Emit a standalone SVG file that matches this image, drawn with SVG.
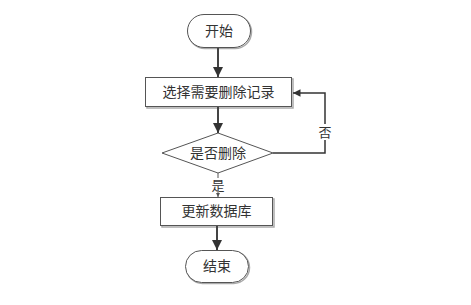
<svg xmlns="http://www.w3.org/2000/svg" width="471" height="305" viewBox="0 0 471 305">
<defs>
<marker id="ah" viewBox="0 0 10 10" refX="10" refY="5" markerWidth="5" markerHeight="5" orient="auto" markerUnits="strokeWidth"><path d="M0,0 L10,5 L0,10 z" fill="#333"/></marker>
<marker id="ahs" viewBox="0 0 10 10" refX="10" refY="5" markerWidth="4" markerHeight="4" orient="auto" markerUnits="strokeWidth"><path d="M0,0 L10,5 L0,10 z" fill="#555"/></marker>
</defs>
<style>
.shape{fill:#fff;stroke:#555;stroke-width:1}
.shadow{fill:none;stroke:#aaa;stroke-width:1.5}
.t{font-family:"Liberation Serif","Noto Sans CJK SC",serif;font-size:14px;fill:#333;text-anchor:middle;dominant-baseline:central}
.c{fill:none;stroke:#444;stroke-width:2}
</style>
<rect width="471" height="305" fill="#fff"/>
<g id="start">
<rect x="188.5" y="15.5" width="63" height="33" rx="16.5" class="shadow"/>
<rect x="187.5" y="14.5" width="63" height="33" rx="16.5" class="shape"/>
<text x="219" y="31" class="t">开始</text>
</g>
<g id="select">
<rect x="147" y="79" width="146" height="29" class="shadow"/>
<rect x="145.5" y="77.5" width="146" height="29" class="shape"/>
<text x="218.5" y="92" class="t">选择需要删除记录</text>
</g>
<g id="decide">
<polygon points="218,133 273,153 218,173 162,153" class="shape"/>
<text x="218" y="153" class="t">是否删除</text>
</g>
<g id="update">
<rect x="162" y="199" width="112" height="28" class="shadow"/>
<rect x="160.5" y="197.5" width="112" height="28" class="shape"/>
<text x="216.5" y="211.5" class="t">更新数据库</text>
</g>
<g id="end">
<rect x="186.5" y="251.5" width="63" height="32" rx="16" class="shadow"/>
<rect x="185.5" y="250.5" width="63" height="32" rx="16" class="shape"/>
<text x="217" y="266.5" class="t">结束</text>
</g>
<g id="connectors">
<line x1="218" y1="48" x2="218" y2="77" class="c" marker-end="url(#ah)"/>
<line x1="218" y1="107" x2="218" y2="133" class="c" marker-end="url(#ah)"/>
<polyline points="273,153 325,153 325,93 293,93" fill="none" stroke="#333" stroke-width="1.5" marker-end="url(#ah)"/>
<line x1="218" y1="173" x2="218" y2="197" stroke="#555" stroke-width="1" marker-end="url(#ahs)"/>
<line x1="217" y1="226" x2="217" y2="250" class="c" marker-end="url(#ah)"/>
<rect x="318" y="124" width="14" height="16" fill="#fff"/>
<text x="325" y="132" class="t" style="font-size:13px">否</text>
<rect x="211" y="178" width="14" height="14" fill="#fff"/>
<text x="218" y="185" class="t" style="font-size:13px">是</text>
</g>
</svg>
